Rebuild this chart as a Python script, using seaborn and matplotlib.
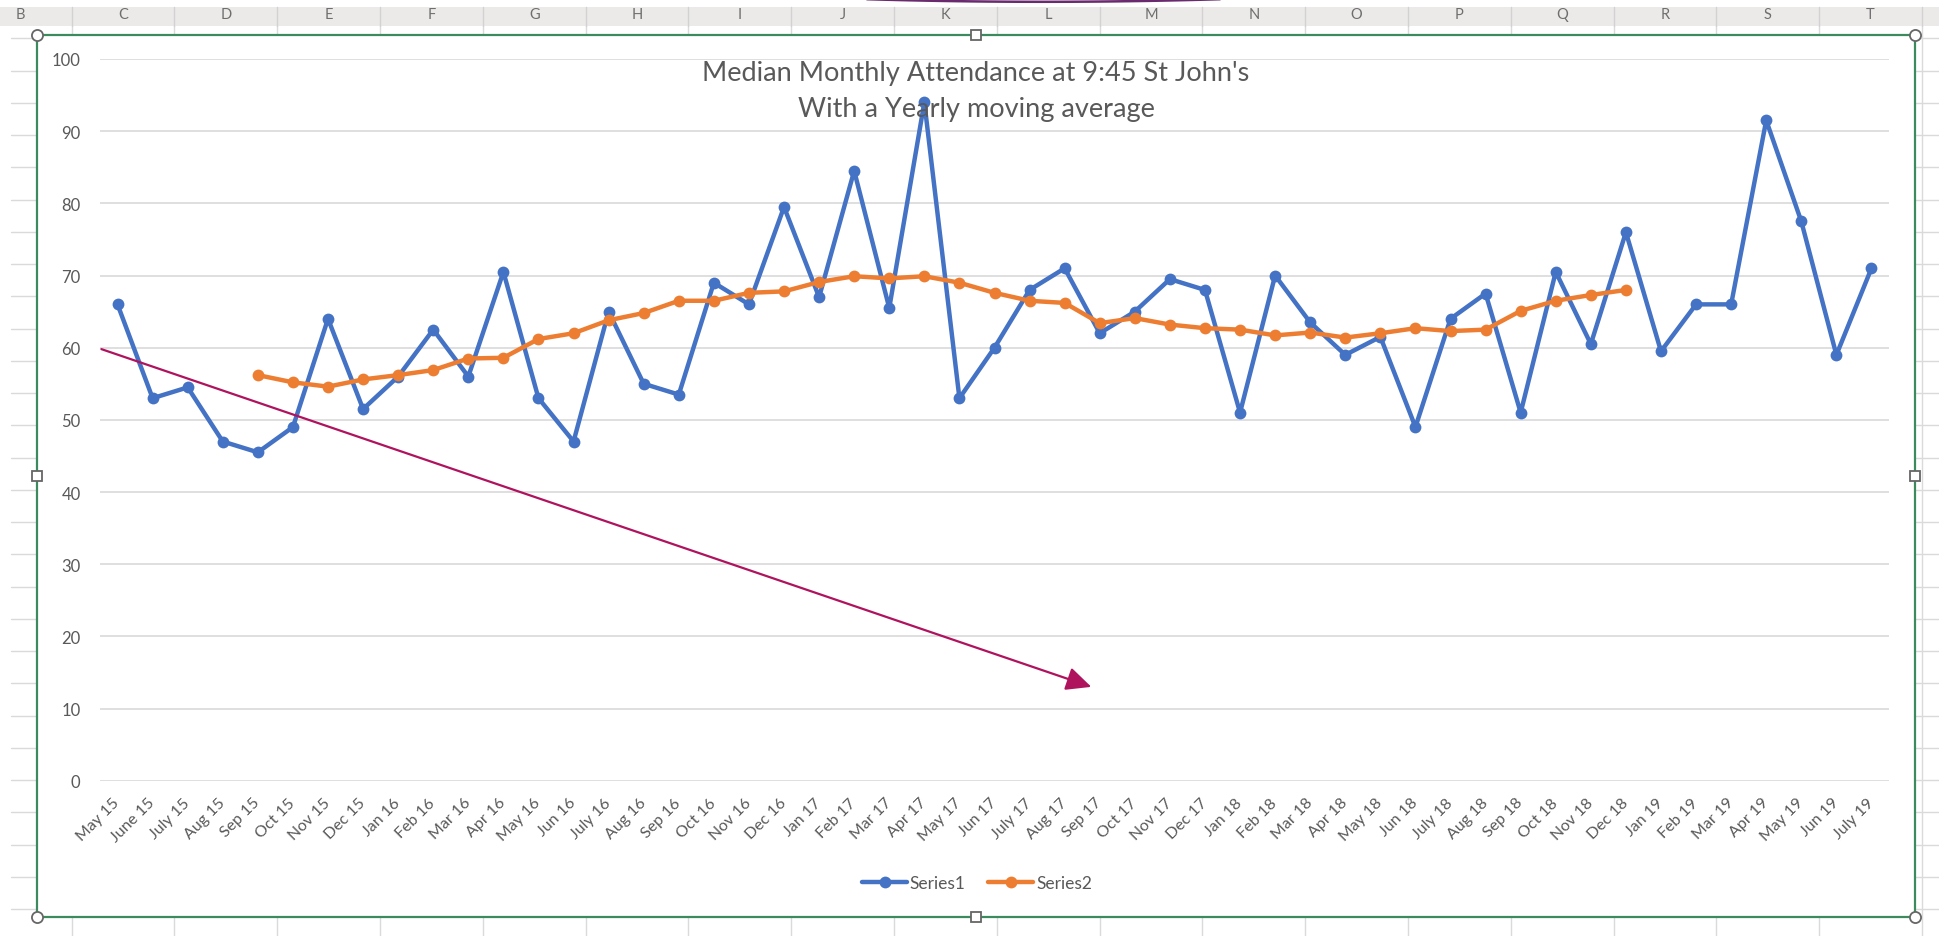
import matplotlib
matplotlib.use("Agg")
import matplotlib.pyplot as plt
import seaborn as sns
import pandas as pd
import numpy as np
from matplotlib.patches import Rectangle, Circle
from matplotlib.lines import Line2D

# ---------------- data ----------------
months = ["May 15", "June 15", "July 15", "Aug 15", "Sep 15", "Oct 15", "Nov 15", "Dec 15",
          "Jan 16", "Feb 16", "Mar 16", "Apr 16", "May 16", "Jun 16", "July 16", "Aug 16",
          "Sep 16", "Oct 16", "Nov 16", "Dec 16", "Jan 17", "Feb 17", "Mar 17", "Apr 17",
          "May 17", "Jun 17", "July 17", "Aug 17", "Sep 17", "Oct 17", "Nov 17", "Dec 17",
          "Jan 18", "Feb 18", "Mar 18", "Apr 18", "May 18", "Jun 18", "July 18", "Aug 18",
          "Sep 18", "Oct 18", "Nov 18", "Dec 18", "Jan 19", "Feb 19", "Mar 19", "Apr 19",
          "May 19", "Jun 19", "July 19"]

series1 = [66, 53, 54.5, 47, 45.5, 49, 64, 51.5, 56, 62.5, 56, 70.5, 53, 47, 65, 55,
           53.5, 69, 66, 79.5, 67, 84.5, 65.5, 94, 53, 60, 68, 71, 62, 65, 69.5, 68,
           51, 70, 63.5, 59, 61.5, 49, 64, 67.5, 51, 70.5, 60.5, 76, 59.5, 66, 66, 91.5,
           77.5, 59, 71]

series2 = [None] * 4 + [56.2, 55.2, 54.6, 55.6, 56.2, 56.9, 58.5, 58.6, 61.2, 62.0,
                        63.8, 64.8, 66.5, 66.5, 67.6, 67.8, 69.1, 69.9, 69.6, 69.9,
                        69.0, 67.6, 66.5, 66.2, 63.4, 64.1, 63.2, 62.7, 62.5, 61.7,
                        62.1, 61.4, 62.0, 62.7, 62.3, 62.5, 65.1, 66.5, 67.3, 68.0] + [None] * 7

series_names = ["Series1", "Series2"]
yticks = [0, 10, 20, 30, 40, 50, 60, 70, 80, 90, 100]
title_lines = ["Median Monthly Attendance at 9:45 St John's", "With a Yearly moving average"]
sheet_columns = ["B", "C", "D", "E", "F", "G", "H", "I", "J", "K", "L", "M", "N", "O",
                 "P", "Q", "R", "S", "T"]

# annotation arrow drawn on the sheet (data coordinates)
ARROW_START = (-0.46, 59.8)
ARROW_END = (27.76, 13.0)

# ---------------- styling ----------------
W, H = 1939, 937
BLUE = "#4472C4"
ORANGE = "#ED7D31"
TXT = "#595959"
GRID = "#D9D9D9"
SHEET = "#DADADA"
GREEN = "#3C8A5E"

sns.set_theme(style="white")
plt.rcParams["font.family"] = ["Lato", "DejaVu Sans"]


def fx(x):
    return x / W


def fy(y):
    return 1 - y / H


fig = plt.figure(figsize=(W / 100, H / 100), dpi=100)
fig.patch.set_facecolor("white")

# ---- spreadsheet background ----
col_w = 102.8
col_c0 = 123.0 - col_w  # centre of column B
for i in range(len(sheet_columns) + 1):
    xs = col_c0 + (i + 0.5) * col_w
    fig.add_artist(Line2D([fx(xs), fx(xs)], [fy(8), fy(H)], color=SHEET, lw=1,
                          zorder=-3, transform=fig.transFigure))
for j in range(30):
    ys = 39.3 + j * 32.25
    fig.add_artist(Line2D([fx(11), fx(W)], [fy(ys), fy(ys)], color=SHEET, lw=1,
                          zorder=-3, transform=fig.transFigure))
# column header strip
fig.add_artist(Rectangle((0, fy(27)), 1, fy(8) - fy(27), transform=fig.transFigure,
                         facecolor="#EBEAE8", edgecolor="none", zorder=-2.5))
for i, c in enumerate(sheet_columns):
    fig.text(fx(col_c0 + i * col_w), fy(15), c, ha="center", va="center",
             fontsize=10.5, color="#6E6E6E", zorder=-2)
for i in range(len(sheet_columns) + 1):
    xs = col_c0 + (i + 0.5) * col_w
    fig.add_artist(Line2D([fx(xs), fx(xs)], [fy(8), fy(27)], color="#D2D2D2", lw=1,
                          zorder=-2, transform=fig.transFigure))
# purple shape edge at very top (thin arc)
arc_x = np.linspace(867, 1220, 60)
arc_y = 0.2 + 2.6 * (1 - ((arc_x - 1043.5) / 176.5) ** 2)
fig.add_artist(Line2D(fx(arc_x), fy(arc_y), color="#6A2A6E", lw=1.8,
                      zorder=-2, transform=fig.transFigure, solid_capstyle="round"))

# chart area (white) with green frame
cx0, cy0, cx1, cy1 = 37, 36, 1915, 918
fig.add_artist(Rectangle((fx(cx0), fy(cy1)), fx(cx1) - fx(cx0), fy(cy0) - fy(cy1),
                         transform=fig.transFigure, facecolor="white",
                         edgecolor="none", zorder=-1))
fig.add_artist(Rectangle((fx(cx0), fy(cy1)), fx(cx1) - fx(cx0), fy(cy0) - fy(cy1),
                         transform=fig.transFigure, facecolor="none",
                         edgecolor=GREEN, lw=1.6, zorder=6))
# selection handles
for (hx, hy) in [(cx0, cy0), (cx1, cy0), (cx0, cy1), (cx1, cy1)]:
    fig.add_artist(Line2D([fx(hx)], [fy(hy)], marker="o", markersize=8,
                          markerfacecolor="white", markeredgecolor="#666666",
                          markeredgewidth=1.3, transform=fig.transFigure, zorder=7))
for (hx, hy) in [((cx0 + cx1) / 2, cy0), ((cx0 + cx1) / 2, cy1),
                 (cx0, (cy0 + cy1) / 2), (cx1, (cy0 + cy1) / 2)]:
    fig.add_artist(Line2D([fx(hx)], [fy(hy)], marker="s", markersize=6.5,
                          markerfacecolor="white", markeredgecolor="#666666",
                          markeredgewidth=1.3, transform=fig.transFigure, zorder=7))

# ---- plot area ----
ax_l, ax_r, ax_t, ax_b = 100, 1889, 60, 781.7
ax = fig.add_axes([fx(ax_l), fy(ax_b), fx(ax_r) - fx(ax_l), fy(ax_t) - fy(ax_b)])
ax.set_facecolor("none")

df = pd.DataFrame({
    "idx": list(range(len(months))) * 2,
    "value": series1 + series2,
    "series": [series_names[0]] * len(months) + [series_names[1]] * len(months),
}).dropna()
df["value"] = df["value"].astype(float)

LW, MS = 3.2, 8.5
sns.lineplot(data=df, x="idx", y="value", hue="series", palette=[BLUE, ORANGE],
             marker="o", markersize=MS, markeredgewidth=0, linewidth=LW,
             ax=ax, legend=False, zorder=3)

ax.set_xlim(-0.5, len(months) - 0.5)
ax.set_ylim(0, 100)
ax.set_yticks(yticks)
ax.set_yticklabels([str(v) for v in yticks])
ax.set_xticks(range(len(months)))
ax.set_xticklabels(months, rotation=45, ha="right", va="center",
                   rotation_mode="anchor")
ax.tick_params(axis="x", length=0, pad=14, labelsize=11.5, labelcolor=TXT)
ax.tick_params(axis="y", length=0, pad=14, labelsize=12, labelcolor=TXT)
ax.grid(axis="y", color=GRID, lw=1.2)
ax.grid(axis="x", visible=False)
for s in ax.spines.values():
    s.set_visible(False)
ax.set_xlabel("")
ax.set_ylabel("")

# arrow annotation
ax.annotate("", xy=ARROW_END, xytext=ARROW_START,
            arrowprops=dict(arrowstyle="-|>,head_length=0.85,head_width=0.4",
                            color="#B0135E", lw=1.6, shrinkA=0, shrinkB=0,
                            mutation_scale=18),
            zorder=4)

# title
fig.text(fx(976), fy(73), title_lines[0], ha="center", va="center",
         fontsize=19.5, color=TXT)
fig.text(fx(976), fy(110), title_lines[1], ha="center", va="center",
         fontsize=19.5, color=TXT)

# legend
handles = [Line2D([], [], color=BLUE, lw=LW, marker="o", markersize=MS,
                  markeredgewidth=0),
           Line2D([], [], color=ORANGE, lw=LW, marker="o", markersize=MS,
                  markeredgewidth=0)]
fig.legend(handles, series_names, loc="center", bbox_to_anchor=(fx(977), fy(884)),
           bbox_transform=fig.transFigure, ncol=2, frameon=False, fontsize=12.5,
           handlelength=2.6, handletextpad=0.15, columnspacing=1.3,
           labelcolor=TXT)

fig.savefig("out.png", dpi=100, facecolor="white")
